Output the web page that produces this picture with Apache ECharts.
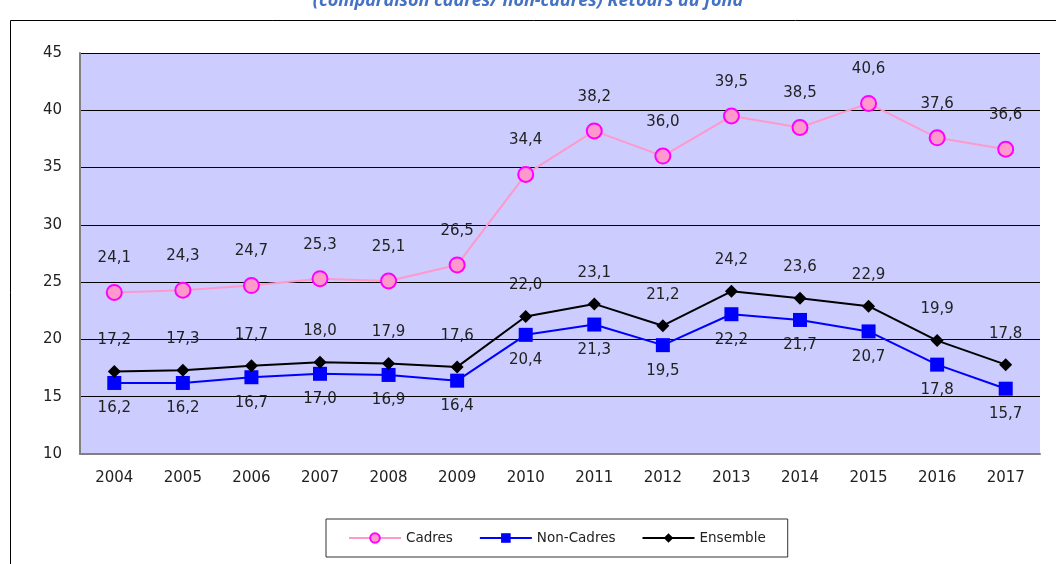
<!DOCTYPE html>
<html>
<head>
<meta charset="utf-8">
<script src="https://cdn.jsdelivr.net/npm/echarts@6/dist/echarts.min.js"></script>
<style>
  html, body { margin: 0; padding: 0; background: #fff; }
  #chart { width: 1056px; height: 564px; }
</style>
</head>
<body>
<div id="chart"></div>
<script>
// data
var years = ['2004', '2005', '2006', '2007', '2008', '2009', '2010', '2011', '2012', '2013', '2014', '2015', '2016', '2017'];
var cadres = [24.1, 24.3, 24.7, 25.3, 25.1, 26.5, 34.4, 38.2, 36.0, 39.5, 38.5, 40.6, 37.6, 36.6];
var nonCadres = [16.2, 16.2, 16.7, 17.0, 16.9, 16.4, 20.4, 21.3, 19.5, 22.2, 21.7, 20.7, 17.8, 15.7];
var ensemble = [17.2, 17.3, 17.7, 18.0, 17.9, 17.6, 22.0, 23.1, 21.2, 24.2, 23.6, 22.9, 19.9, 17.8];

var fnt = 'DejaVu Sans, Verdana, sans-serif';

function fmt(p) {
	return p.value.toFixed(1).replace('.', ',');
}

var myChart = echarts.init(document.getElementById('chart'));
var option = {
	animation: false,
	textStyle: { fontFamily: fnt },
	title: {
		text: '(comparaison cadres/ non-cadres) Retours au fond',
		left: 'center',
		top: -13,
		textStyle: { color: '#4472c4', fontSize: 18, fontStyle: 'italic', fontWeight: 'bold', fontFamily: 'Open Sans, sans-serif' }
	},
	graphic: [{
		type: 'rect',
		shape: { x: 10.5, y: 20.5, width: 1060, height: 560 },
		style: { fill: 'none', stroke: '#000', lineWidth: 1 },
		silent: true
	}],
	grid: { left: 80, right: 16, top: 53, bottom: 110 },
	legend: {
		bottom: 7,
		left: 326,
		itemWidth: 52,
		itemHeight: 12,
		itemGap: 26,
		padding: [12, 22],
		borderColor: '#333',
		borderWidth: 1,
		textStyle: { fontSize: 13.5, color: '#222' },
		data: ['Cadres', 'Non-Cadres', 'Ensemble']
	},
	xAxis: {
		type: 'category',
		data: years,
		axisLine: { lineStyle: { color: '#808080', width: 2 } },
		axisTick: { show: false },
		axisLabel: { fontSize: 15, color: '#222', margin: 17 }
	},
	yAxis: {
		type: 'value',
		min: 10,
		max: 45,
		interval: 5,
		axisLine: { show: true, lineStyle: { color: '#808080', width: 2 } },
		axisTick: { show: false },
		axisLabel: { fontSize: 15, color: '#222', margin: 18 },
		splitLine: { lineStyle: { color: '#000', width: 1 } },
		splitArea: { show: true, areaStyle: { color: ['#ccccff', '#ccccff'] } }
	},
	series: [
		{
			name: 'Cadres',
			type: 'line',
			data: cadres,
			symbol: 'circle',
			symbolSize: 15,
			lineStyle: { color: '#ff99cc', width: 2 },
			itemStyle: { color: '#ff99cc', borderColor: '#ff00ff', borderWidth: 2 },
			label: { show: true, position: 'top', distance: 18, formatter: fmt, fontSize: 15, color: '#222' }
		},
		{
			name: 'Non-Cadres',
			type: 'line',
			data: nonCadres,
			symbol: 'rect',
			symbolSize: 14,
			lineStyle: { color: '#0000ff', width: 2 },
			itemStyle: { color: '#0000ff' },
			label: { show: true, position: 'bottom', distance: 11, formatter: fmt, fontSize: 15, color: '#222' }
		},
		{
			name: 'Ensemble',
			type: 'line',
			data: ensemble,
			symbol: 'diamond',
			symbolSize: 13,
			lineStyle: { color: '#000', width: 2 },
			itemStyle: { color: '#000' },
			label: { show: true, position: 'top', distance: 17, formatter: fmt, fontSize: 15, color: '#222' }
		}
	]
};
myChart.setOption(option);
</script>
</body>
</html>
